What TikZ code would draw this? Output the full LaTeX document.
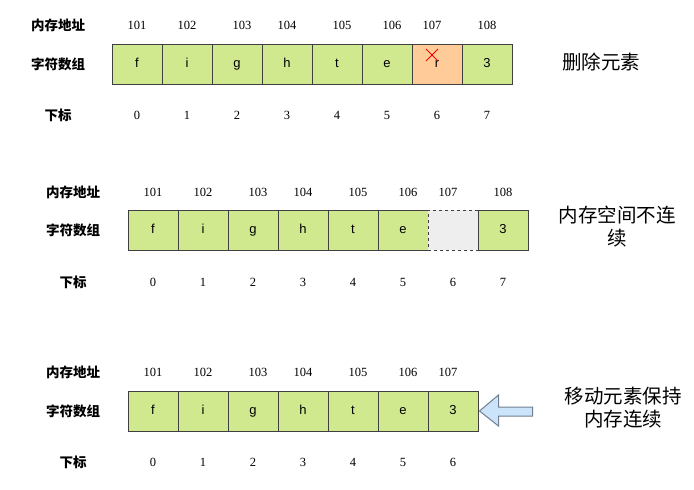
\documentclass[tikz,border=0pt]{standalone}
\usepackage{fontspec}
\setmainfont{Liberation Serif}
\setsansfont{Liberation Sans}
\newfontfamily\cjk{Noto Sans CJK SC}
\usepackage{tikz}
\usetikzlibrary{positioning}

\definecolor{cellgreen}{HTML}{D0E98E}
\definecolor{cellorange}{HTML}{FFCC99}
\definecolor{cellgray}{HTML}{EEEEEE}
\definecolor{cellline}{HTML}{404040}
\definecolor{arrowfill}{HTML}{CCE4FA}
\definecolor{arrowline}{HTML}{6F7F8F}

\begin{document}
\begin{tikzpicture}[
  x=1pt, y=-1pt,
  cell/.style={draw=cellline, fill=cellgreen, line width=1pt, minimum width=50pt,
    minimum height=40pt, inner sep=0pt, text height=9pt, text depth=2.5pt,
    font=\sffamily\fontsize{13}{15}\selectfont},
  lbl/.style={font=\cjk\bfseries\fontsize{13.5}{15}\selectfont},
  num/.style={font=\fontsize{12.5}{14}\selectfont},
  note/.style={font=\cjk\fontsize{19.5}{23}\selectfont, align=center},
  arrowbox/.style={draw=arrowline, fill=arrowfill, line width=1pt, line join=miter}
]
  \useasboundingbox (0,0) rectangle (694,490);

  % row 1: delete element
  \node[lbl] (addrA) at (58,25) {内存地址};
  \node[lbl] (arrA) at (58,64) {字符数组};
  \node[lbl] (idxA) at (58,115) {下标};
  \foreach \ch/\fc [count=\i from 0] in {f/cellgreen,i/cellgreen,g/cellgreen,h/cellgreen,
      t/cellgreen,e/cellgreen,r/cellorange,3/cellgreen}
    \node[cell, fill=\fc] (a\i) at ({137+50*\i},64) {\ch};
  \foreach \ad/\dx [count=\i from 0] in {101/0,102/0,103/5,104/0,105/5,106/5,107/-5,108/0}
    \node[num] (ma\i) at ({137+50*\i+\dx},25) {\ad};
  \foreach \i in {0,...,7}
    \node[num] (ia\i) at ({137+50*\i},115) {\i};
  \draw[red, line width=1pt] ([shift={(-11,-15)}]a6.center) -- ([shift={(1,-3)}]a6.center)
    ([shift={(1,-15)}]a6.center) -- ([shift={(-11,-3)}]a6.center);
  \node[note] (delnote) at (601,62) {删除元素};

  % row 2: gap left behind
  \node[lbl] (addrB) at (73,192) {内存地址};
  \node[lbl] (arrB) at (73,230) {字符数组};
  \node[lbl] (idxB) at (73,282) {下标};
  \foreach \ch [count=\i from 0] in {f,i,g,h,t,e}
    \node[cell] (b\i) at ({153+50*\i},230) {\ch};
  \node[cell, fill=cellgray, dashed] (b6) at (453,230) {};
  \node[cell] (b7) at (503,230) {3};
  \foreach \ad/\dx [count=\i from 0] in {101/0,102/0,103/5,104/0,105/5,106/5,107/-5,108/0}
    \node[num] (mb\i) at ({153+50*\i+\dx},192) {\ad};
  \foreach \i in {0,...,7}
    \node[num] (ib\i) at ({153+50*\i},282) {\i};
  \node[note] (gapnote) at (617,227) {内存空间不连\\续};

  % row 3: shifted, contiguous again
  \node[lbl] (addrC) at (73,372) {内存地址};
  \node[lbl] (arrC) at (73,411) {字符数组};
  \node[lbl] (idxC) at (73,462) {下标};
  \foreach \ch [count=\i from 0] in {f,i,g,h,t,e,3}
    \node[cell] (c\i) at ({153+50*\i},411) {\ch};
  \foreach \ad/\dx [count=\i from 0] in {101/0,102/0,103/5,104/0,105/5,106/5,107/-5}
    \node[num] (mc\i) at ({153+50*\i+\dx},372) {\ad};
  \foreach \i in {0,...,6}
    \node[num] (ic\i) at ({153+50*\i},462) {\i};
  \draw[arrowbox] ([xshift=1pt]c6.east) -- ++(19,-16) -- ++(0,12) -- ++(34,0)
    -- ++(0,9) -- ++(-34,0) -- ++(0,10) -- cycle;
  \node[note] (movenote) at (623,408) {移动元素保持\\内存连续};
\end{tikzpicture}
\end{document}
